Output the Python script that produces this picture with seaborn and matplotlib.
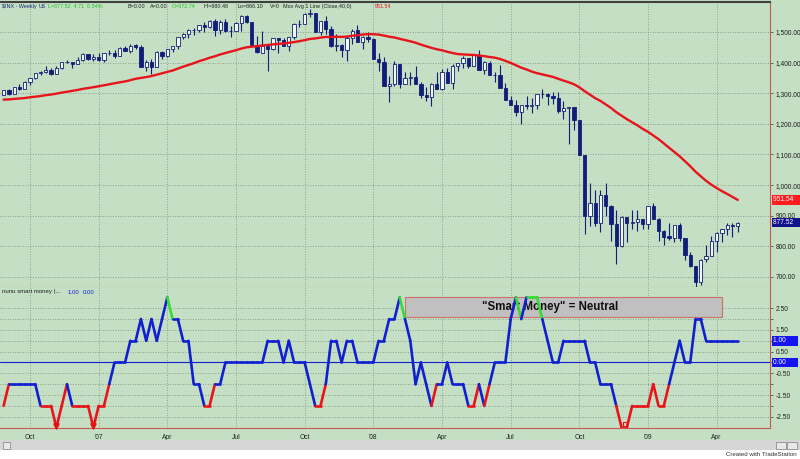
import numpy as np
import matplotlib
matplotlib.use("Agg")
import matplotlib.pyplot as plt
import matplotlib.transforms as mtransforms
from matplotlib.patches import Rectangle
import seaborn as sns

# weekly $INX bars (Friday), 2006-09-01 .. 2009-05-01
opens = [1295, 1311, 1299, 1320, 1315, 1336, 1350, 1366, 1369, 1377, 1364, 1381, 1401, 1401, 1397, 1410, 1427, 1411,
         1418, 1410, 1431, 1431, 1422, 1448, 1438, 1456, 1451, 1387, 1403, 1387, 1436, 1421, 1444, 1453, 1484, 1494,
         1506, 1506, 1523, 1516, 1536, 1508, 1533, 1503, 1503, 1530, 1552, 1534, 1459, 1433, 1454, 1446, 1479, 1474,
         1454, 1484, 1526, 1527, 1558, 1562, 1501, 1535, 1510, 1454, 1459, 1441, 1481, 1505, 1468, 1484,
         1478, 1412, 1401, 1325, 1331, 1395, 1331, 1350, 1353, 1331, 1293, 1288, 1330, 1315, 1370, 1333, 1390, 1398,
         1414, 1388, 1425, 1376, 1400, 1361, 1360, 1318, 1278, 1263, 1239, 1261, 1258, 1260, 1296, 1298, 1292, 1283,
         1242, 1252, 1255, 1213, 1099, 899, 941, 877, 969, 931, 873, 800, 896, 876, 880, 888,
         873, 932, 890, 850, 832, 826, 869, 827, 770, 735, 683, 757, 769, 816, 843, 857, 870, 866]
highs = [1312, 1314, 1320, 1329, 1340, 1350, 1366, 1372, 1389, 1381, 1388, 1403, 1407, 1403, 1418, 1431, 1428, 1427,
         1430, 1432, 1440, 1441, 1452, 1453, 1461, 1460, 1456, 1410, 1412, 1437, 1439, 1445, 1453, 1485, 1498, 1510,
         1513, 1523, 1532, 1540, 1541, 1539, 1541, 1518, 1532, 1555, 1556, 1534, 1488, 1504, 1456, 1481, 1481, 1481,
         1485, 1530, 1538, 1561, 1576, 1563, 1535, 1552, 1520, 1492, 1461, 1488, 1510, 1523, 1486, 1499,
         1479, 1431, 1417, 1356, 1405, 1396, 1368, 1368, 1388, 1336, 1321, 1334, 1369, 1380, 1381, 1395, 1399, 1422,
         1416, 1426, 1441, 1404, 1406, 1370, 1392, 1333, 1292, 1278, 1263, 1292, 1284, 1297, 1314, 1300, 1303, 1304,
         1274, 1256, 1256, 1214, 1099, 1006, 985, 984, 1007, 934, 917, 899, 896, 919, 918, 890,
         932, 943, 893, 852, 877, 870, 876, 827, 780, 735, 758, 804, 832, 846, 857, 876, 876, 880]
lows = [1294, 1294, 1299, 1310, 1315, 1327, 1345, 1360, 1366, 1361, 1364, 1378, 1398, 1381, 1395, 1404, 1408, 1406,
        1404, 1403, 1424, 1416, 1420, 1437, 1433, 1446, 1385, 1374, 1363, 1387, 1413, 1419, 1435, 1446, 1477, 1482,
        1491, 1499, 1500, 1513, 1487, 1492, 1500, 1484, 1503, 1504, 1529, 1452, 1432, 1430, 1371, 1440, 1432, 1453,
        1439, 1477, 1516, 1527, 1548, 1500, 1490, 1492, 1450, 1438, 1417, 1406, 1461, 1467, 1446, 1467,
        1411, 1371, 1325, 1270, 1322, 1316, 1330, 1326, 1330, 1284, 1274, 1257, 1315, 1312, 1332, 1313, 1372, 1384,
        1384, 1388, 1375, 1364, 1360, 1336, 1317, 1278, 1262, 1225, 1200, 1248, 1234, 1248, 1284, 1261, 1266, 1236,
        1217, 1133, 1180, 1099, 840, 866, 866, 846, 899, 818, 741, 798, 815, 857, 851, 857,
        857, 888, 818, 804, 821, 814, 818, 754, 731, 667, 672, 748, 768, 780, 815, 836, 829, 847]
closes = [1311.01, 1298.92, 1319.66, 1314.78, 1335.85, 1349.59, 1365.62, 1368.60, 1377.34, 1364.30, 1380.90,
          1401.20, 1400.95, 1396.71, 1409.84, 1427.09, 1410.76, 1418.30,
          1409.71, 1430.73, 1430.50, 1422.18, 1448.39, 1438.06, 1455.54, 1451.19, 1387.17, 1402.84, 1386.95,
          1436.11, 1420.86, 1443.76, 1452.85, 1484.35, 1494.07, 1505.62, 1505.85, 1522.75, 1515.73, 1536.34,
          1507.67, 1532.91, 1502.56, 1503.35, 1530.44, 1552.50, 1534.10, 1458.95, 1433.06, 1453.64, 1445.94,
          1479.37, 1473.99, 1453.55, 1484.25, 1525.75, 1526.75, 1557.59, 1561.80, 1500.63, 1535.28, 1509.65,
          1453.70, 1458.74, 1440.70, 1481.14, 1504.66, 1467.95, 1484.46, 1478.49,
          1411.63, 1401.02, 1325.19, 1330.61, 1395.42, 1331.29, 1349.99, 1353.11, 1330.63, 1293.37, 1288.14,
          1329.51, 1315.22, 1370.40, 1332.83, 1390.33, 1397.84, 1413.90, 1388.28, 1425.35, 1375.93, 1400.38,
          1360.68, 1360.03, 1317.93, 1278.38, 1262.90, 1239.49, 1260.68, 1257.76, 1260.31, 1296.32, 1298.20,
          1292.20, 1282.83, 1242.31, 1251.70, 1255.08, 1213.27, 1099.23, 899.22, 940.55, 876.77, 968.75,
          930.99, 873.29, 800.03, 896.24, 876.07, 879.73, 887.88, 872.80,
          931.80, 890.35, 850.12, 831.95, 825.88, 868.60, 826.84, 770.05, 735.09, 683.38, 756.55, 768.54,
          815.94, 842.50, 856.56, 869.60, 866.23, 877.52]

# Mov Avg 1 Line (Close, 40)
ma40 = [1279.0, 1279.9, 1281.4, 1282.6, 1284.2, 1286.8, 1288.8, 1290.8, 1293.7, 1295.7, 1298.6, 1302.0, 1304.8,
        1307.5, 1310.6, 1314.2, 1316.8, 1319.7, 1322.6, 1325.9, 1329.5, 1332.3, 1335.7, 1338.5, 1342.6, 1347.2,
        1349.9, 1352.8, 1356.1, 1360.7, 1365.1, 1369.5, 1374.2, 1380.4, 1386.7, 1392.4, 1398.1, 1404.5, 1409.8,
        1415.8, 1420.7, 1426.6, 1431.2, 1435.9, 1440.7, 1445.8, 1450.0, 1452.3, 1453.7, 1455.9, 1457.5, 1459.5,
        1461.3, 1462.7, 1464.6, 1467.1, 1470.0, 1473.4, 1477.3, 1479.0, 1481.6, 1483.8, 1483.9, 1484.5, 1484.1,
        1484.8, 1487.8, 1489.4, 1491.8, 1492.9, 1492.7, 1491.6, 1488.4, 1484.6, 1482.1, 1477.7, 1473.8, 1469.6,
        1465.0, 1458.9, 1453.4, 1448.3, 1443.6, 1440.3, 1435.4, 1431.3, 1427.9, 1426.8, 1425.7, 1425.0, 1423.2,
        1421.2, 1418.4, 1416.1, 1411.9, 1405.7, 1399.1, 1391.2, 1383.6, 1377.6, 1370.7, 1365.4, 1361.5, 1357.3,
        1353.4, 1347.4, 1341.1, 1335.8, 1329.0, 1319.5, 1306.7, 1295.2, 1284.0, 1274.9, 1263.3, 1251.9, 1238.1,
        1226.7, 1215.3, 1205.0, 1195.0, 1183.6, 1174.0, 1162.0, 1149.9, 1135.9, 1121.6, 1108.0, 1094.0, 1077.6,
        1061.6, 1043.6, 1028.5, 1013.8, 1001.2, 990.3, 980.1, 970.9, 961.0, 951.5]

# nunu smart money
smart = [-2, -1, -1, -1, -1, -1, -1, -2, -2, -2,
         -3, -2, -1, -2, -2, -2, -2, -3, -2, -2,
         -1, 0, 0, 0, 1, 1, 2, 1, 2, 1,
         2, 3, 2, 2, 1, 1, -1, -1, -2, -2,
         -1, -1, 0, 0, 0, 0, 0, 0, 0, 0,
         1, 1, 1, 0, 1, 0, 0, 0, -1, -2,
         -2, -1, 1, 1, 0, 1, 1, 0, 0, 0,
         0, 1, 1, 2, 2, 3, 2, 1, -1, 0,
         -1, -2, -1, -1, 0, -1, -1, -1, -2, -2,
         -1, -2, -1, 0, 0, 0, 2, 3, 2, 3,
         3, 3, 2, 1, 0, 0, 1, 1, 1, 1,
         1, 0, 0, -1, -1, -1, -2, -3, -3, -2,
         -2, -2, -2, -1, -2, -2, -1, 0, 1, 0,
         0, 2, 2, 1, 1, 1, 1, 1, 1, 1]
# segments (ending week) that the chart draws red although they start at -1
red_extra = [124]

tick_weeks = [5, 18, 31, 44, 57, 70, 83, 96, 109, 122, 135]
tick_labels = ["Oct", "'07", "Apr", "Jul", "Oct", "'08", "Apr", "Jul", "Oct", "'09", "Apr"]
price_ticks = [700, 800, 900, 1000, 1100, 1200, 1300, 1400, 1500]
event_weeks = [10, 17]

sns.set_style("white")
plt.rcParams['font.family'] = ['Liberation Sans', 'DejaVu Sans']

BG = '#c4dfc4'
NAVY = '#101e78'
RED = '#e8141c'
BLUE = '#1020d0'
BORDER = '#c45a50'
GRID = '#7a8c7a'

W, H = 800, 459
fig = plt.figure(figsize=(8, 4.59), dpi=100, facecolor=BG)


def box(x0, y0, x1, y1):
    return [x0 / W, 1 - y1 / H, (x1 - x0) / W, (y1 - y0) / H]


ax1 = fig.add_axes(box(0, 2, 770, 287))
ax2 = fig.add_axes(box(0, 287, 770, 428))
idx = np.arange(len(closes))

for ax in (ax1, ax2):
    ax.set_facecolor(BG)
    ax.set_xlim(-0.68, 145.1)
    ax.set_xticks(tick_weeks)
    ax.grid(True, color=GRID, ls=(0, (1, 2)), lw=0.6)
    for s in ax.spines.values():
        s.set_visible(False)
    ax.spines['right'].set_visible(True)
    ax.spines['right'].set_color(BORDER)
    ax.spines['bottom'].set_visible(True)
    ax.spines['bottom'].set_color(BORDER)
    ax.yaxis.tick_right()
    ax.tick_params(axis='y', direction='out', length=2.5, width=0.6, color='#505050',
                   labelsize=4.8, pad=1.5, labelcolor='#202020')

ax1.spines['top'].set_visible(True)
ax1.spines['top'].set_color('#404040')
ax1.spines['top'].set_linewidth(1.5)

# price panel
o = np.array(opens, float)
c = np.array(closes)
up = c >= o
ax1.vlines(idx, lows, highs, color=NAVY, lw=0.8, zorder=3)
ax1.bar(idx, np.maximum(np.abs(c - o), 0.8), bottom=np.minimum(o, c), width=0.62,
        color=np.where(up, '#f3f7f3', NAVY), edgecolor=NAVY, linewidth=0.6, zorder=4)
sns.lineplot(x=idx, y=ma40, ax=ax1, color=RED, linewidth=1.7, zorder=5, legend=False)
ax1.set_ylim(667, 1598)
ax1.set_yticks(price_ticks)
ax1.set_yticklabels([f"{v:,.2f}" for v in price_ticks])
ax1.tick_params(axis='x', length=0, labelbottom=False)
ax1.set_xlabel('')
ax1.set_ylabel('')

tr1 = mtransforms.blended_transform_factory(ax1.transAxes, ax1.transData)
ax1.text(1.004, ma40[-1], "951.54    ", transform=tr1, ha='left', va='center', fontsize=4.8,
         color='white', bbox=dict(boxstyle='square,pad=0.2', fc='#ff1c1c', ec='none'), clip_on=False, zorder=10)
ax1.text(1.004, closes[-1], f"{closes[-1]:.2f}    ", transform=tr1, ha='left', va='center', fontsize=4.8,
         color='white', bbox=dict(boxstyle='square,pad=0.2', fc='#12128a', ec='none'), clip_on=False, zorder=10)

# smart money panel
ax2.set_ylim(-3.02, 3.48)
yt = np.arange(-2.5, 3.0, 0.5)
ax2.set_yticks(yt)
ax2.set_yticklabels([f"{v:.2f}" if abs(v) % 1 == 0.5 else "" for v in yt])
ax2.axhline(0, color=BLUE, lw=0.8, zorder=2)
ax2.add_patch(Rectangle((76.0, 2.10), 60.1, 0.92, fc='#c0c0c0', ec='#d0706a', lw=0.8, zorder=3))
ax2.text(103.5, 2.58, '"Smart Money" = Neutral', ha='center', va='center', fontsize=8.3,
         fontweight='bold', color='#101010', zorder=4)
for i in range(1, len(smart)):
    start = smart[i - 1]
    col = RED if (start <= -2 or i in red_extra) else ('#33dd33' if start >= 3 else BLUE)
    ax2.plot([i - 1, i], [start, smart[i]], color=col, lw=1.9, solid_capstyle='round', zorder=6)
ax2.set_xticklabels(tick_labels)
ax2.tick_params(axis='x', length=0, pad=4, labelsize=4.8, labelcolor='#202020')

tr2 = mtransforms.blended_transform_factory(ax2.transAxes, ax2.transData)
ax2.text(1.004, smart[-1], "1.00      ", transform=tr2, ha='left', va='center', fontsize=4.8,
         color='white', bbox=dict(boxstyle='square,pad=0.2', fc='#1414f0', ec='none'), clip_on=False, zorder=10)
ax2.text(1.004, 0, "0.00      ", transform=tr2, ha='left', va='center', fontsize=4.8,
         color='white', bbox=dict(boxstyle='square,pad=0.2', fc='#1414f0', ec='none'), clip_on=False, zorder=10)
trb = mtransforms.blended_transform_factory(ax2.transData, ax2.transAxes)
ax2.scatter(event_weeks, [0.015] * len(event_weeks), marker='v', s=14, color='#e81010',
            transform=trb, clip_on=False, zorder=10)
ax2.scatter([117.7], [0.03], marker='s', s=10, facecolor='none', edgecolor='#e81010', lw=0.8,
            transform=trb, clip_on=False, zorder=10)

# header texts
hy = 1 - 6.5 / H
for x, s, col in [(2, "$INX - Weekly", '#1c2470'), (39, "US", '#1c2470'), (48, "L=877.52  4.71  0.54%", '#22c322'),
                  (128, "B=0.00", '#202020'), (150, "A=0.00", '#202020'), (172, "O=872.74", '#22c322'),
                  (204, "Hi=880.48", '#202020'), (237, "Lo=866.10", '#202020'), (270, "V=0", '#202020'),
                  (283, "Mov Avg 1 Line (Close,40,0)", '#202020'), (375, "951.54", RED)]:
    fig.text(x / W, hy, s, fontsize=3.9, color=col, ha='left', va='center')
ly = 1 - 292 / H
fig.text(2 / W, ly, "nunu smart money (...", fontsize=4.3, color='#202020', ha='left', va='center')
fig.text(68 / W, ly, "1.00", fontsize=4.3, color=BLUE, ha='left', va='center')
fig.text(83 / W, ly, "0.00", fontsize=4.3, color=BLUE, ha='left', va='center')

# bottom strip
fig.patches.append(Rectangle((0, 0), 1, 9 / H, transform=fig.transFigure, fc='white', ec='none'))
fig.patches.append(Rectangle((0, 9 / H), 1, 10 / H, transform=fig.transFigure, fc='#d6d6d6', ec='none'))
fig.patches.append(Rectangle((3 / W, 10.5 / H), 7 / W, 7 / H, transform=fig.transFigure, fc='#e8e8e8', ec='#808080', lw=0.5))
fig.patches.append(Rectangle((776 / W, 10.5 / H), 10 / W, 7 / H, transform=fig.transFigure, fc='#e8e8e8', ec='#808080', lw=0.5))
fig.patches.append(Rectangle((787 / W, 10.5 / H), 10 / W, 7 / H, transform=fig.transFigure, fc='#e8e8e8', ec='#808080', lw=0.5))
fig.text(797 / W, 4.5 / H, "Created with TradeStation", fontsize=4.4, color='#303030', ha='right', va='center')

fig.savefig("out.png", dpi=100, facecolor=BG)
